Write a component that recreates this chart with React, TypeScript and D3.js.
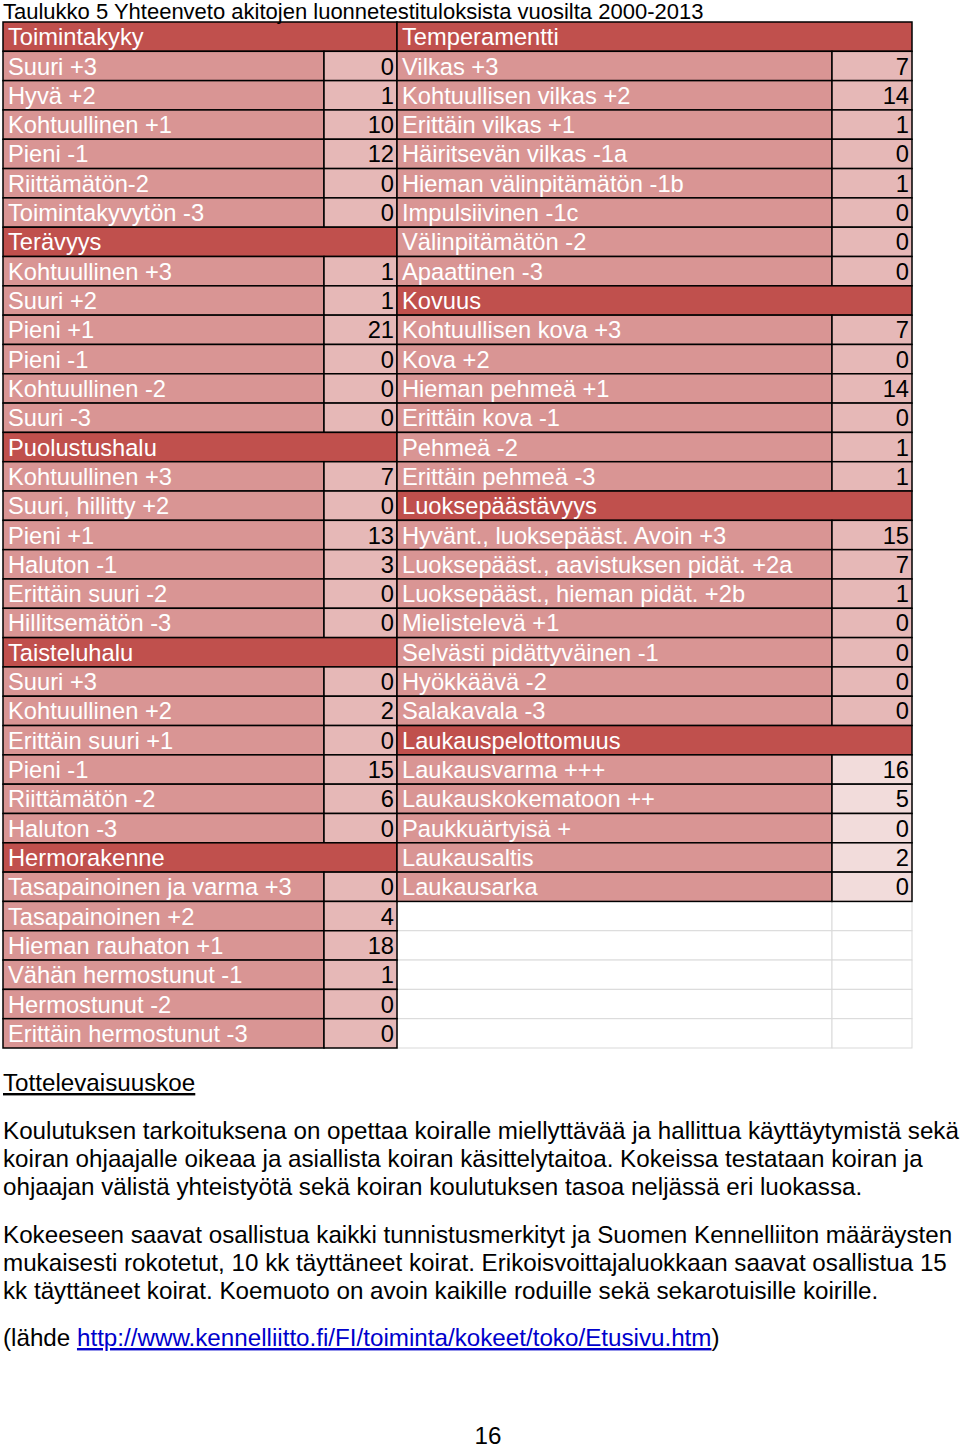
import React from "react";
import * as d3 from "d3";

const title = "Taulukko 5 Yhteenveto akitojen luonnetestituloksista vuosilta 2000-2013";

const leftSections = ["Toimintakyky", "Terävyys", "Puolustushalu", "Taisteluhalu", "Hermorakenne"];
const leftLabels = [
  ["Suuri +3", "Hyvä +2", "Kohtuullinen +1", "Pieni -1", "Riittämätön-2", "Toimintakyvytön -3"],
  ["Kohtuullinen +3", "Suuri +2", "Pieni +1", "Pieni -1", "Kohtuullinen -2", "Suuri -3"],
  ["Kohtuullinen +3", "Suuri, hillitty +2", "Pieni +1", "Haluton -1", "Erittäin suuri -2", "Hillitsemätön -3"],
  ["Suuri +3", "Kohtuullinen +2", "Erittäin suuri +1", "Pieni -1", "Riittämätön -2", "Haluton -3"],
  ["Tasapainoinen ja varma +3", "Tasapainoinen +2", "Hieman rauhaton +1", "Vähän hermostunut -1", "Hermostunut -2", "Erittäin hermostunut -3"],
];
const leftValues = [
  [0, 1, 10, 12, 0, 0],
  [1, 1, 21, 0, 0, 0],
  [7, 0, 13, 3, 0, 0],
  [0, 2, 0, 15, 6, 0],
  [0, 4, 18, 1, 0, 0],
];

const rightSections = ["Temperamentti", "Kovuus", "Luoksepäästävyys", "Laukauspelottomuus"];
const rightLabels = [
  ["Vilkas +3", "Kohtuullisen vilkas +2", "Erittäin vilkas +1", "Häiritsevän vilkas -1a", "Hieman välinpitämätön -1b", "Impulsiivinen -1c", "Välinpitämätön -2", "Apaattinen -3"],
  ["Kohtuullisen kova +3", "Kova +2", "Hieman pehmeä +1", "Erittäin kova -1", "Pehmeä -2", "Erittäin pehmeä -3"],
  ["Hyvänt., luoksepääst. Avoin +3", "Luoksepääst., aavistuksen pidät. +2a", "Luoksepääst., hieman pidät. +2b", "Mielistelevä +1", "Selvästi pidättyväinen -1", "Hyökkäävä -2", "Salakavala -3"],
  ["Laukausvarma +++", "Laukauskokematoon ++", "Paukkuärtyisä +", "Laukausaltis", "Laukausarka"],
];
const rightValues = [
  [7, 14, 1, 0, 1, 0, 0, 0],
  [7, 0, 14, 0, 1, 1],
  [15, 7, 1, 0, 0, 0, 0],
  [16, 5, 0, 2, 0],
];

const heading = "Tottelevaisuuskoe";
const para1 = [
  "Koulutuksen tarkoituksena on opettaa koiralle miellyttävää ja hallittua käyttäytymistä sekä",
  "koiran ohjaajalle oikeaa ja asiallista koiran käsittelytaitoa. Kokeissa testataan koiran ja",
  "ohjaajan välistä yhteistyötä sekä koiran koulutuksen tasoa neljässä eri luokassa.",
];
const para2 = [
  "Kokeeseen saavat osallistua kaikki tunnistusmerkityt ja Suomen Kennelliiton määräysten",
  "mukaisesti rokotetut, 10 kk täyttäneet koirat. Erikoisvoittajaluokkaan saavat osallistua 15",
  "kk täyttäneet koirat. Koemuoto on avoin kaikille roduille sekä sekarotuisille koirille.",
];
const sourcePrefix = "(lähde ";
const sourceLink = "http://www.kennelliitto.fi/FI/toiminta/kokeet/toko/Etusivu.htm";
const sourceSuffix = ")";
const pageNumber = "16";

type Row = { type: "header" | "item" | "empty"; label?: string; value?: number; light?: boolean };

function buildRows(sections: string[], labels: string[][], values: number[][], lightLast: boolean): Row[] {
  const rows: Row[] = [];
  sections.forEach((s, i) => {
    rows.push({ type: "header", label: s });
    labels[i].forEach((l, j) =>
      rows.push({ type: "item", label: l, value: values[i][j], light: lightLast && i === sections.length - 1 })
    );
  });
  return rows;
}

const HEADER = "#C0504D";
const LABEL = "#D99594";
const VALUE = "#E6B8B7";
const VALUE_LIGHT = "#F2DCDB";
const FONT = "'Liberation Sans', Arial, sans-serif";

export default function App() {
  const left = buildRows(leftSections, leftLabels, leftValues, false);
  const right = buildRows(rightSections, rightLabels, rightValues, true);
  const nRows = Math.max(left.length, right.length);
  while (right.length < nRows) right.push({ type: "empty" });

  const y = d3.scaleBand<number>().domain(d3.range(nRows)).range([22, 1048]).paddingInner(0);
  const h = y.bandwidth();
  const cols = { left: [3, 324, 397], right: [397, 832, 912] };
  const fs = 23.7;
  const pfs = 24.2;

  const renderRow = (r: Row, i: number, c: number[], key: string) => {
    const y0 = y(i)!;
    const ty = y0 + h / 2 + fs * 0.36;
    if (r.type === "header") {
      return (
        <g key={key + i}>
          <rect x={c[0]} y={y0} width={c[2] - c[0]} height={h} fill={HEADER} stroke="#000" strokeWidth={1.5} />
          <text x={c[0] + 5} y={ty} fill="#fff" fontSize={fs}>{r.label}</text>
        </g>
      );
    }
    if (r.type === "empty") {
      return (
        <g key={key + i}>
          <rect x={c[0]} y={y0} width={c[1] - c[0]} height={h} fill="#fff" stroke="#d9d9d9" strokeWidth={1} />
          <rect x={c[1]} y={y0} width={c[2] - c[1]} height={h} fill="#fff" stroke="#d9d9d9" strokeWidth={1} />
        </g>
      );
    }
    return (
      <g key={key + i}>
        <rect x={c[0]} y={y0} width={c[1] - c[0]} height={h} fill={LABEL} stroke="#000" strokeWidth={1.5} />
        <rect x={c[1]} y={y0} width={c[2] - c[1]} height={h} fill={r.light ? VALUE_LIGHT : VALUE} stroke="#000" strokeWidth={1.5} />
        <text x={c[0] + 5} y={ty} fill="#fff" fontSize={fs}>{r.label}</text>
        <text x={c[2] - 3} y={ty} fill="#000" fontSize={fs} textAnchor="end">{r.value}</text>
      </g>
    );
  };

  const indexed = right.map((r, i) => ({ r, i }));

  return (
    <svg width={960} height={1448} style={{ position: "absolute", left: 0, top: 0, background: "#fff" }} fontFamily={FONT}>
      {indexed.filter((d) => d.r.type === "empty").map(({ r, i }) => renderRow(r, i, cols.right, "e"))}
      {left.map((r, i) => renderRow(r, i, cols.left, "l"))}
      {indexed.filter((d) => d.r.type !== "empty").map(({ r, i }) => renderRow(r, i, cols.right, "r"))}
      <text x={3} y={18.5} fontSize={22} fill="#000">{title}</text>

      <text x={3} y={1091} fontSize={pfs} fill="#000" textDecoration="underline">{heading}</text>
      {para1.map((t, i) => (
        <text key={"p1" + i} x={3} y={1139 + i * 28} fontSize={pfs} fill="#000">{t}</text>
      ))}
      {para2.map((t, i) => (
        <text key={"p2" + i} x={3} y={1243 + i * 28} fontSize={pfs} fill="#000">{t}</text>
      ))}
      <text x={3} y={1346} fontSize={pfs} fill="#000">
        <tspan>{sourcePrefix}</tspan>
        <tspan fill="#0000CC" textDecoration="underline">{sourceLink}</tspan>
        <tspan>{sourceSuffix}</tspan>
      </text>
      <text x={488} y={1444} fontSize={pfs} fill="#000" textAnchor="middle">{pageNumber}</text>
    </svg>
  );
}
